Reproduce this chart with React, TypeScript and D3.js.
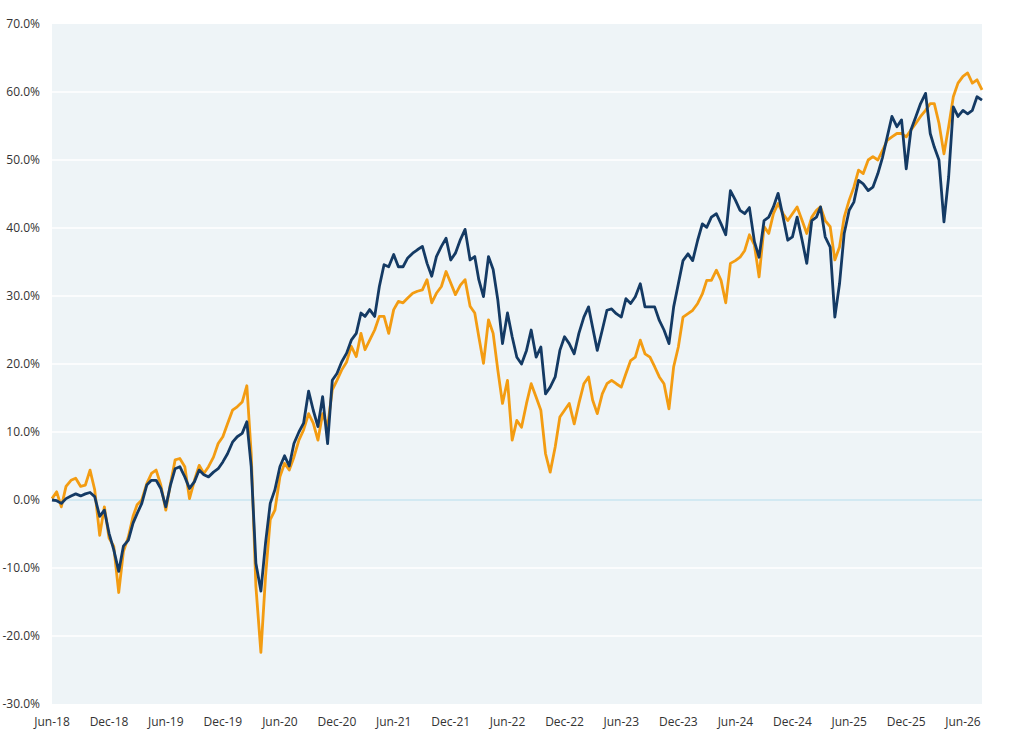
import * as d3 from 'd3';
import * as React from 'react';

const WIDTH = 1024;
const HEIGHT = 743;
const MARGIN = { top: 24, right: 42, bottom: 39, left: 52 };

// semi-monthly readings, starting 1 Jun 2018 (1st and 16th of each month)
const navyValues = [
  0.0, -0.1, -0.5, 0.2, 0.6, 0.9, 0.6, 0.9, 1.1, 0.5,
  -2.4, -1.5, -4.9, -7.3, -10.5, -6.8, -5.9, -3.4, -2.0, -0.5,
  2.2, 2.9, 2.9, 1.7, -1.0, 2.2, 4.6, 4.9, 3.4, 1.7,
  2.7, 4.4, 3.7, 3.4, 4.1, 4.6, 5.6, 6.8, 8.5, 9.3,
  9.8, 11.5, 4.9, -9.3, -13.4, -6.3, -0.5, 1.5, 4.9, 6.5,
  5.0, 8.3, 10.0, 11.3, 16.0, 13.2, 10.8, 15.2, 8.3, 17.6,
  18.6, 20.3, 21.6, 23.5, 24.5, 27.5, 27.0, 28.0, 27.0, 31.4,
  34.6, 34.3, 36.1, 34.3, 34.3, 35.6, 36.3, 36.8, 37.3, 34.8,
  32.9, 35.8, 37.3, 38.5, 35.3, 36.3, 38.3, 39.8, 35.3, 35.8,
  32.4, 29.9, 35.8, 33.9, 29.4, 23.0, 27.5, 24.0, 21.0, 20.0,
  22.0, 25.0, 21.0, 22.5, 15.6, 16.6, 18.1, 22.0, 24.0, 23.0,
  21.5, 24.5, 26.9, 28.4, 25.4, 22.0, 25.0, 27.9, 28.1, 27.4,
  26.9, 29.6, 28.9, 29.9, 31.8, 28.4, 28.4, 28.4, 26.4, 25.0,
  23.0, 28.4, 31.8, 35.2, 36.2, 35.2, 38.2, 40.6, 40.1, 41.6,
  42.1, 40.6, 39.0, 45.5, 44.1, 42.6, 42.1, 43.0, 38.0, 35.7,
  41.1, 41.6, 43.1, 45.1, 41.6, 38.2, 38.7, 41.6, 38.2, 34.8,
  41.1, 41.6, 43.1, 38.7, 37.2, 26.9, 31.8, 39.2, 42.6, 43.8,
  47.0, 46.5, 45.5, 46.0, 48.0, 50.4, 53.4, 56.4, 54.9, 55.9,
  48.7, 54.4, 56.4, 58.3, 59.8, 53.9, 51.9, 50.0, 40.9, 47.5,
  57.8, 56.4, 57.3, 56.8, 57.3, 59.3, 58.8,
];

const orangeValues = [
  0.2, 1.2, -1.0, 2.0, 2.9, 3.2, 2.0, 2.2, 4.4, 1.5,
  -5.2, -1.0, -5.6, -6.8, -13.6, -7.6, -5.4, -2.4, -0.7, 0.0,
  2.4, 3.9, 4.4, 2.2, -1.5, 2.4, 5.9, 6.1, 4.9, 0.2,
  2.9, 5.1, 3.9, 4.9, 6.3, 8.3, 9.3, 11.2, 13.2, 13.7,
  14.4, 16.8, 6.8, -12.7, -22.4, -11.2, -2.9, -1.5, 3.4, 5.4,
  4.4, 6.3, 8.8, 10.3, 12.7, 11.3, 8.8, 12.7, 10.8, 16.2,
  17.6, 19.1, 20.3, 22.6, 21.1, 24.5, 22.1, 23.5, 25.0, 27.0,
  27.0, 24.5, 28.0, 29.2, 29.0, 29.7, 30.4, 30.7, 30.9, 32.4,
  29.0, 30.4, 31.4, 33.6, 31.9, 30.2, 31.6, 32.4, 28.5, 27.5,
  24.0, 20.1, 26.5, 24.5, 19.1, 14.2, 17.6, 8.8, 11.7, 10.7,
  14.2, 17.1, 15.1, 13.2, 6.8, 4.1, 7.8, 12.2, 13.2, 14.2,
  11.2, 14.2, 17.1, 18.1, 14.7, 12.7, 15.6, 17.1, 17.6, 17.1,
  16.6, 18.6, 20.5, 21.0, 23.5, 21.5, 21.0, 19.6, 18.1, 17.1,
  13.4, 19.6, 22.5, 26.9, 27.4, 27.9, 28.9, 30.3, 32.3, 32.3,
  33.8, 32.3, 29.0, 34.8, 35.2, 35.7, 36.7, 39.0, 37.5, 32.8,
  40.2, 39.2, 42.1, 43.6, 42.1, 41.1, 42.1, 43.1, 41.1, 39.2,
  41.6, 42.6, 43.1, 41.1, 40.2, 35.3, 37.2, 41.6, 44.1, 46.0,
  48.5, 48.0, 50.0, 50.5, 50.0, 51.4, 52.9, 53.4, 53.9, 53.9,
  53.4, 54.4, 55.4, 56.4, 57.3, 58.3, 58.3, 55.4, 50.9, 54.9,
  59.3, 61.3, 62.3, 62.8, 61.3, 61.8, 60.3,
];

const tickLabels = [
  'Jun-18', 'Dec-18', 'Jun-19', 'Dec-19', 'Jun-20', 'Dec-20', 'Jun-21', 'Dec-21',
  'Jun-22', 'Dec-22', 'Jun-23', 'Dec-23', 'Jun-24', 'Dec-24', 'Jun-25', 'Dec-25', 'Jun-26',
];

const yTicks = [-30, -20, -10, 0, 10, 20, 30, 40, 50, 60, 70];

const NAVY = '#143a64';
const ORANGE = '#f39c12';
const FONT = '"Open Sans", "Liberation Sans", sans-serif';

const dates = navyValues.map(
  (_, i) => new Date(2018, 5 + Math.floor(i / 2), i % 2 ? 16 : 1)
);
const parseTick = d3.timeParse('%b-%y');

export default function App() {
  const x = d3
    .scaleTime()
    .domain([dates[0], dates[dates.length - 1]])
    .range([MARGIN.left, WIDTH - MARGIN.right]);
  const y = d3
    .scaleLinear()
    .domain([-30, 70])
    .range([HEIGHT - MARGIN.bottom, MARGIN.top]);

  const line = d3
    .line<number>()
    .x((_, i) => x(dates[i]))
    .y(d => y(d));

  const plotW = WIDTH - MARGIN.right - MARGIN.left;
  const plotH = HEIGHT - MARGIN.bottom - MARGIN.top;

  return (
    <svg
      width={WIDTH}
      height={HEIGHT}
      style={{ position: 'absolute', left: 0, top: 0, background: '#fff' }}
    >
      <rect x={MARGIN.left} y={MARGIN.top} width={plotW} height={plotH} fill="#eef4f7" />
      {yTicks.map(t =>
        t === -30 || t === 70 ? null : (
          <line
            key={t}
            x1={MARGIN.left}
            x2={WIDTH - MARGIN.right}
            y1={y(t)}
            y2={y(t)}
            stroke={t === 0 ? '#c9e6f0' : '#ffffff'}
            strokeWidth={1.5}
          />
        )
      )}
      {yTicks.map(t => (
        <text
          key={t}
          x={40}
          y={y(t)}
          dy="0.35em"
          textAnchor="end"
          fontFamily={FONT}
          fontSize={12}
          fill="#333"
        >
          {`${t.toFixed(1)}%`}
        </text>
      ))}
      {tickLabels.map(l => (
        <text
          key={l}
          x={x(parseTick(l) as Date)}
          y={HEIGHT - MARGIN.bottom + 18}
          dy="0.35em"
          textAnchor="middle"
          fontFamily={FONT}
          fontSize={12}
          fill="#333"
        >
          {l}
        </text>
      ))}
      <path
        d={line(orangeValues) || ''}
        fill="none"
        stroke={ORANGE}
        strokeWidth={2.8}
        strokeLinejoin="round"
      />
      <path
        d={line(navyValues) || ''}
        fill="none"
        stroke={NAVY}
        strokeWidth={2.8}
        strokeLinejoin="round"
      />
    </svg>
  );
}
